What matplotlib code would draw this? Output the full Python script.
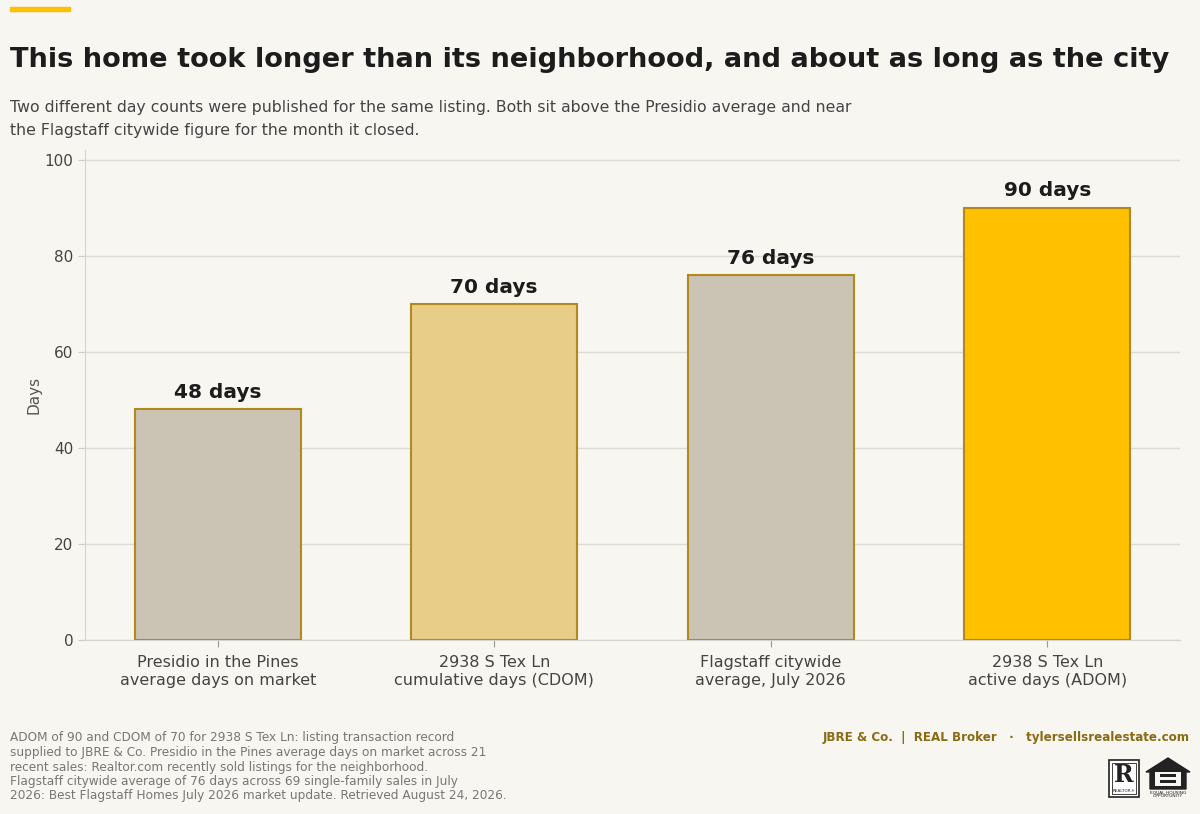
import matplotlib.pyplot as plt
from matplotlib.patches import Rectangle, Polygon

plt.rcParams['font.family'] = ['DejaVu Sans']

categories = ["Presidio in the Pines\naverage days on market",
              "2938 S Tex Ln\ncumulative days (CDOM)",
              "Flagstaff citywide\naverage, July 2026",
              "2938 S Tex Ln\nactive days (ADOM)"]
days = [48, 70, 76, 90]
bar_colors = ["#cbc4b4", "#e8cd88", "#cbc4b4", "#ffc000"]
yticks = [0, 20, 40, 60, 80, 100]

bg = "#f7f6f1"
fig = plt.figure(figsize=(12, 8.14), dpi=100, facecolor=bg)
ax = fig.add_axes([85/1200, 1 - 640/814, (1180-85)/1200, (640-150)/814])
ax.set_facecolor(bg)

x = range(len(days))
ax.bar(x, days, width=0.6, color=bar_colors, edgecolor="#b08a1e", linewidth=1.5, zorder=3)
for i, v in enumerate(days):
    ax.text(i, v + 1.5, f"{v} days", ha="center", va="bottom", fontsize=14.5,
            fontweight="bold", color="#1c1c1c", zorder=4)

ax.set_ylim(0, 102)
ax.set_yticks(yticks)
ax.set_xticks(list(x))
ax.set_xticklabels(categories, fontsize=11.5, color="#444444")
ax.tick_params(axis="y", labelsize=11, colors="#444444", length=5, color="#cccccc")
ax.tick_params(axis="x", length=5, color="#999999", pad=6)
ax.grid(axis="y", color="#dedbd3", linewidth=1, zorder=0)
for s in ["top", "right"]:
    ax.spines[s].set_visible(False)
for s in ["left", "bottom"]:
    ax.spines[s].set_color("#d6d3cb")
ax.set_ylabel("Days", fontsize=11, color="#555555", labelpad=2)

# accent line
fig.patches.append(Rectangle((10/1200, 1 - 11/814), 60/1200, 4/814,
                             transform=fig.transFigure, color="#ffc000"))

fig.text(10/1200, 1 - 60/814, "This home took longer than its neighborhood, and about as long as the city",
         fontsize=19.6, fontweight="bold", color="#1c1c1c", va="center")
fig.text(10/1200, 1 - 119/814,
         "Two different day counts were published for the same listing. Both sit above the Presidio average and near\n"
         "the Flagstaff citywide figure for the month it closed.",
         fontsize=11.3, color="#444444", va="center", linespacing=1.6)

fig.text(10/1200, 1 - 767/814,
         "ADOM of 90 and CDOM of 70 for 2938 S Tex Ln: listing transaction record\n"
         "supplied to JBRE & Co. Presidio in the Pines average days on market across 21\n"
         "recent sales: Realtor.com recently sold listings for the neighborhood.\n"
         "Flagstaff citywide average of 76 days across 69 single-family sales in July\n"
         "2026: Best Flagstaff Homes July 2026 market update. Retrieved August 24, 2026.",
         fontsize=8.7, color="#777777", va="center", linespacing=1.15)

fig.text(1190/1200, 1 - 737/814,
         "JBRE & Co.  |  REAL Broker   \u00b7   tylersellsrealestate.com",
         fontsize=8.6, fontweight="bold", color="#8a6a12", ha="right", va="center")

# realtor logo
def px(xp, yp):
    return (xp/1200, 1 - yp/814)

fig.patches.append(Rectangle(px(1109, 797), 30/1200, 37/814, transform=fig.transFigure,
                             facecolor="white", edgecolor="#222222", linewidth=1.2))
fig.patches.append(Rectangle(px(1112, 794), 24/1200, 31/814, transform=fig.transFigure,
                             facecolor="none", edgecolor="#222222", linewidth=0.6))
fig.text(*px(1124, 775), "R", fontsize=17, fontweight="bold", color="#222222",
         ha="center", va="center", fontfamily="DejaVu Serif")
fig.text(*px(1124, 791), "REALTOR\u00ae", fontsize=3, color="#222222", ha="center", va="center")

# equal housing logo
house = [px(1146, 772), px(1168, 758), px(1190, 772), px(1186, 772),
         px(1186, 789), px(1150, 789), px(1150, 772)]
fig.patches.append(Polygon(house, closed=True, transform=fig.transFigure,
                           facecolor="#222222", edgecolor="#222222"))
fig.patches.append(Rectangle(px(1155, 786), 26/1200, 14/814, transform=fig.transFigure,
                             facecolor=bg, edgecolor="none"))
fig.patches.append(Rectangle(px(1160, 777), 16/1200, 3/814, transform=fig.transFigure,
                             facecolor="#222222", edgecolor="none"))
fig.patches.append(Rectangle(px(1160, 783), 16/1200, 3/814, transform=fig.transFigure,
                             facecolor="#222222", edgecolor="none"))
fig.text(*px(1168, 792), "EQUAL HOUSING", fontsize=3.2, color="#222222", ha="center", va="center")
fig.text(*px(1168, 796), "OPPORTUNITY", fontsize=3.2, color="#222222", ha="center", va="center")

fig.savefig("out.png", dpi=100, facecolor=bg)
